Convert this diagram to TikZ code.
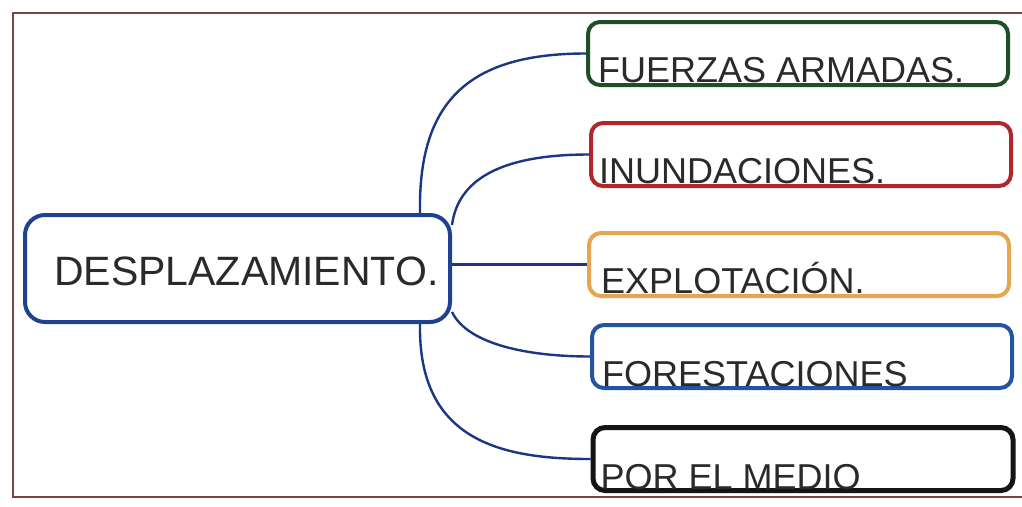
\documentclass[tikz,border=0pt]{standalone}
\usepackage{fontspec}
\setmainfont{Liberation Sans}
\definecolor{cgreen}{HTML}{1F4F26}
\definecolor{cred}{HTML}{B0262A}
\definecolor{corange}{HTML}{E4A64E}
\definecolor{cblue}{HTML}{2453A3}
\definecolor{cdark}{HTML}{151515}
\definecolor{cmain}{HTML}{1E4290}
\definecolor{cline}{HTML}{1B3784}
\definecolor{cframe}{HTML}{7A4545}
\definecolor{ctext}{HTML}{2A2A2A}
\begin{document}
\begin{tikzpicture}[x=1pt,y=-1pt,
  box/.style={draw, line width=4pt, rounded corners=12pt, minimum width=420pt, minimum height=63pt, inner sep=0pt},
  mainbox/.style={draw=cmain, line width=4pt, rounded corners=20pt, minimum width=425pt, minimum height=107pt, inner sep=0pt},
  lbl/.style={anchor=base west, inner sep=0pt, text=ctext, font=\fontsize{36}{36}\selectfont},
  conn/.style={draw=cline, line width=2.4pt}]
\useasboundingbox (0,0) rectangle (1022,506);
\fill[white] (0,0) rectangle (1022,506);
\draw[cframe, line width=1.2pt] (1030,13) -- (13,13) -- (13,497) -- (1030,497);
\node[mainbox] (c) at (237.5,268.5) {};
\node[anchor=base west, inner sep=0pt, text=ctext, font=\fontsize{41}{41}\selectfont] (ct) at (54,285) {DESPLAZAMIENTO.};
\node[box, draw=cgreen]  (b1) at (798,53.5) {};
\node[box, draw=cred]    (b2) at (801,154.5) {};
\node[box, draw=corange] (b3) at (799,264.5) {};
\node[box, draw=cblue]   (b4) at (802,356.5) {};
\node[box, draw=cdark, line width=5pt] (b5) at (803,459) {};
\node[lbl] (t1) at ([xshift=12pt,yshift=5pt]b1.south west) {FUERZAS ARMADAS.};
\node[lbl] (t2) at ([xshift=10pt,yshift=5pt]b2.south west) {INUNDACIONES.};
\node[lbl] (t3) at ([xshift=14pt,yshift=5pt]b3.south west) {EXPLOTACIÓN.};
\node[lbl] (t4) at ([xshift=12pt,yshift=4pt]b4.south west) {FORESTACIONES};
\node[lbl] (t5) at ([xshift=10pt,yshift=4pt]b5.south west) {POR EL MEDIO};
\coordinate (s1) at ([xshift=-32pt]c.north east);
\coordinate (s2) at ([yshift=-12pt]c.north east);
\coordinate (s4) at ([yshift=12pt]c.south east);
\coordinate (s5) at ([xshift=-32pt]c.south east);
\draw[conn] (s1) .. controls (418,100) and (470,53.5) .. (b1.west);
\draw[conn] (s2) .. controls (458,180) and (500,154.5) .. (b2.west);
\draw[conn] (c.east |- b3.west) -- (b3.west);
\draw[conn] (s4) .. controls (468,345) and (530,356.5) .. (b4.west);
\draw[conn] (s5) .. controls (418,440) and (500,459) .. (b5.west);
\end{tikzpicture}
\end{document}
